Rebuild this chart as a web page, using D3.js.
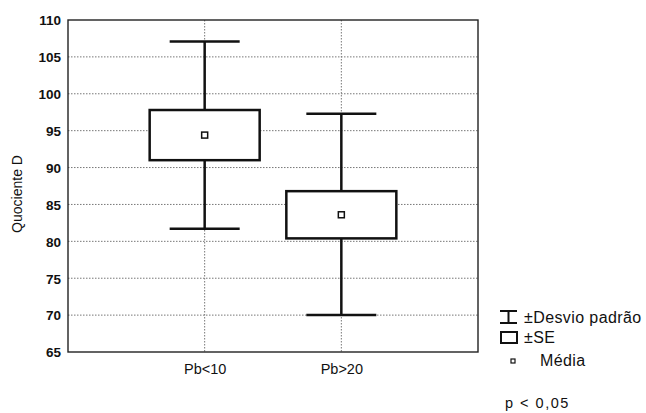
<!DOCTYPE html>
<html>
<head>
<meta charset="utf-8">
<script src="https://cdn.jsdelivr.net/npm/d3@7"></script>
<style>
  body { margin: 0; background: #fff; }
  text { font-family: "Liberation Sans", Arial, sans-serif; fill: #111; }
</style>
</head>
<body>
<div id="chart"></div>
<script>
// data
var groups = ["Pb<10", "Pb>20"];
var means = [94.4, 83.6];
var seLow = [91.0, 80.4];
var seHigh = [97.8, 86.8];
var sdLow = [81.7, 70.0];
var sdHigh = [107.1, 97.3];
var yTicks = [65, 70, 75, 80, 85, 90, 95, 100, 105, 110];

var margin = { top: 20, right: 168, bottom: 61, left: 68 };
var width = 646 - margin.left - margin.right,
    height = 413 - margin.top - margin.bottom;

var svg = d3.select("#chart").append("svg")
    .attr("width", 646)
    .attr("height", 413);

var g = svg.append("g")
    .attr("transform", "translate(" + margin.left + "," + margin.top + ")");

var x = d3.scalePoint()
    .domain(groups)
    .range([0, width])
    .padding(1);

var y = d3.scaleLinear()
    .domain([65, 110])
    .range([height, 0]);

// gridlines
g.selectAll(".hgrid")
    .data(yTicks.slice(1, -1))
    .enter().append("line")
    .attr("class", "hgrid")
    .attr("x1", 0).attr("x2", width)
    .attr("y1", function(d) { return y(d); })
    .attr("y2", function(d) { return y(d); })
    .attr("stroke", "#777")
    .attr("stroke-width", 1)
    .attr("stroke-dasharray", "1.5,1.5");

g.selectAll(".vgrid")
    .data(groups)
    .enter().append("line")
    .attr("class", "vgrid")
    .attr("x1", function(d) { return x(d); })
    .attr("x2", function(d) { return x(d); })
    .attr("y1", 0).attr("y2", height)
    .attr("stroke", "#777")
    .attr("stroke-width", 1)
    .attr("stroke-dasharray", "1.5,1.5");

// axes
var yAxis = d3.axisLeft(y).tickValues(yTicks).tickSize(0).tickPadding(7);
var yg = g.append("g").attr("class", "y-axis").call(yAxis);
yg.select(".domain").remove();
yg.selectAll("text")
    .style("font-size", "13.5px")
    .style("font-weight", "bold")
    .attr("dy", "0.36em");

var xAxis = d3.axisBottom(x).tickSize(0).tickPadding(10);
var xg = g.append("g")
    .attr("transform", "translate(0," + height + ")")
    .call(xAxis);
xg.select(".domain").remove();
xg.selectAll("text")
    .style("font-size", "14.5px")
    .attr("dy", "0.8em");

// frame
g.append("rect")
    .attr("x", 0).attr("y", 0)
    .attr("width", width).attr("height", height)
    .attr("fill", "none")
    .attr("stroke", "#222")
    .attr("stroke-width", 1.4);

svg.append("text")
    .attr("transform", "translate(22," + (margin.top + height / 2 + 8) + ") rotate(-90)")
    .attr("text-anchor", "middle")
    .style("font-size", "14px")
    .text("Quociente D");

// whiskers (± desvio padrão)
var boxHalf = 55, capHalf = 35;

g.selectAll(".whisker")
    .data(groups)
    .enter().append("line")
    .attr("x1", function(d) { return x(d); })
    .attr("x2", function(d) { return x(d); })
    .attr("y1", function(d, i) { return y(sdHigh[i]); })
    .attr("y2", function(d, i) { return y(sdLow[i]); })
    .attr("stroke", "#111")
    .attr("stroke-width", 2.5);

[sdHigh, sdLow].forEach(function(arr) {
    g.selectAll(null)
        .data(groups)
        .enter().append("line")
        .attr("x1", function(d) { return x(d) - capHalf; })
        .attr("x2", function(d) { return x(d) + capHalf; })
        .attr("y1", function(d, i) { return y(arr[i]); })
        .attr("y2", function(d, i) { return y(arr[i]); })
        .attr("stroke", "#111")
        .attr("stroke-width", 2.5);
});

// boxes (± SE)
g.selectAll(".box")
    .data(groups)
    .enter().append("rect")
    .attr("x", function(d) { return x(d) - boxHalf; })
    .attr("width", boxHalf * 2)
    .attr("y", function(d, i) { return y(seHigh[i]); })
    .attr("height", function(d, i) { return y(seLow[i]) - y(seHigh[i]); })
    .attr("fill", "#fff")
    .attr("stroke", "#111")
    .attr("stroke-width", 2.5);

// means
g.selectAll(".mean")
    .data(groups)
    .enter().append("rect")
    .attr("x", function(d) { return x(d) - 3; })
    .attr("y", function(d, i) { return y(means[i]) - 3; })
    .attr("width", 6).attr("height", 6)
    .attr("fill", "#fff")
    .attr("stroke", "#111")
    .attr("stroke-width", 1.5);

// legend
var lg = svg.append("g");
lg.append("line").attr("x1", 500).attr("x2", 517).attr("y1", 311).attr("y2", 311)
    .attr("stroke", "#111").attr("stroke-width", 2);
lg.append("line").attr("x1", 500).attr("x2", 517).attr("y1", 323).attr("y2", 323)
    .attr("stroke", "#111").attr("stroke-width", 2);
lg.append("line").attr("x1", 508.5).attr("x2", 508.5).attr("y1", 311).attr("y2", 323)
    .attr("stroke", "#111").attr("stroke-width", 2);
lg.append("text").attr("x", 524).attr("y", 323)
    .style("font-size", "16px").style("letter-spacing", "0.4px").text("±Desvio padrão");

lg.append("rect").attr("x", 501).attr("y", 332).attr("width", 16).attr("height", 11)
    .attr("fill", "#fff").attr("stroke", "#111").attr("stroke-width", 2);
lg.append("text").attr("x", 524).attr("y", 343)
    .style("font-size", "16px").style("letter-spacing", "0.4px").text("±SE");

lg.append("rect").attr("x", 511).attr("y", 359).attr("width", 4).attr("height", 4)
    .attr("fill", "#fff").attr("stroke", "#111").attr("stroke-width", 1.2);
lg.append("text").attr("x", 540).attr("y", 366)
    .style("font-size", "16px").style("letter-spacing", "0.4px").text("Média");

svg.append("text").attr("x", 505).attr("y", 408)
    .style("font-size", "14.5px").style("letter-spacing", "1.5px").text("p < 0,05");
</script>
</body>
</html>
